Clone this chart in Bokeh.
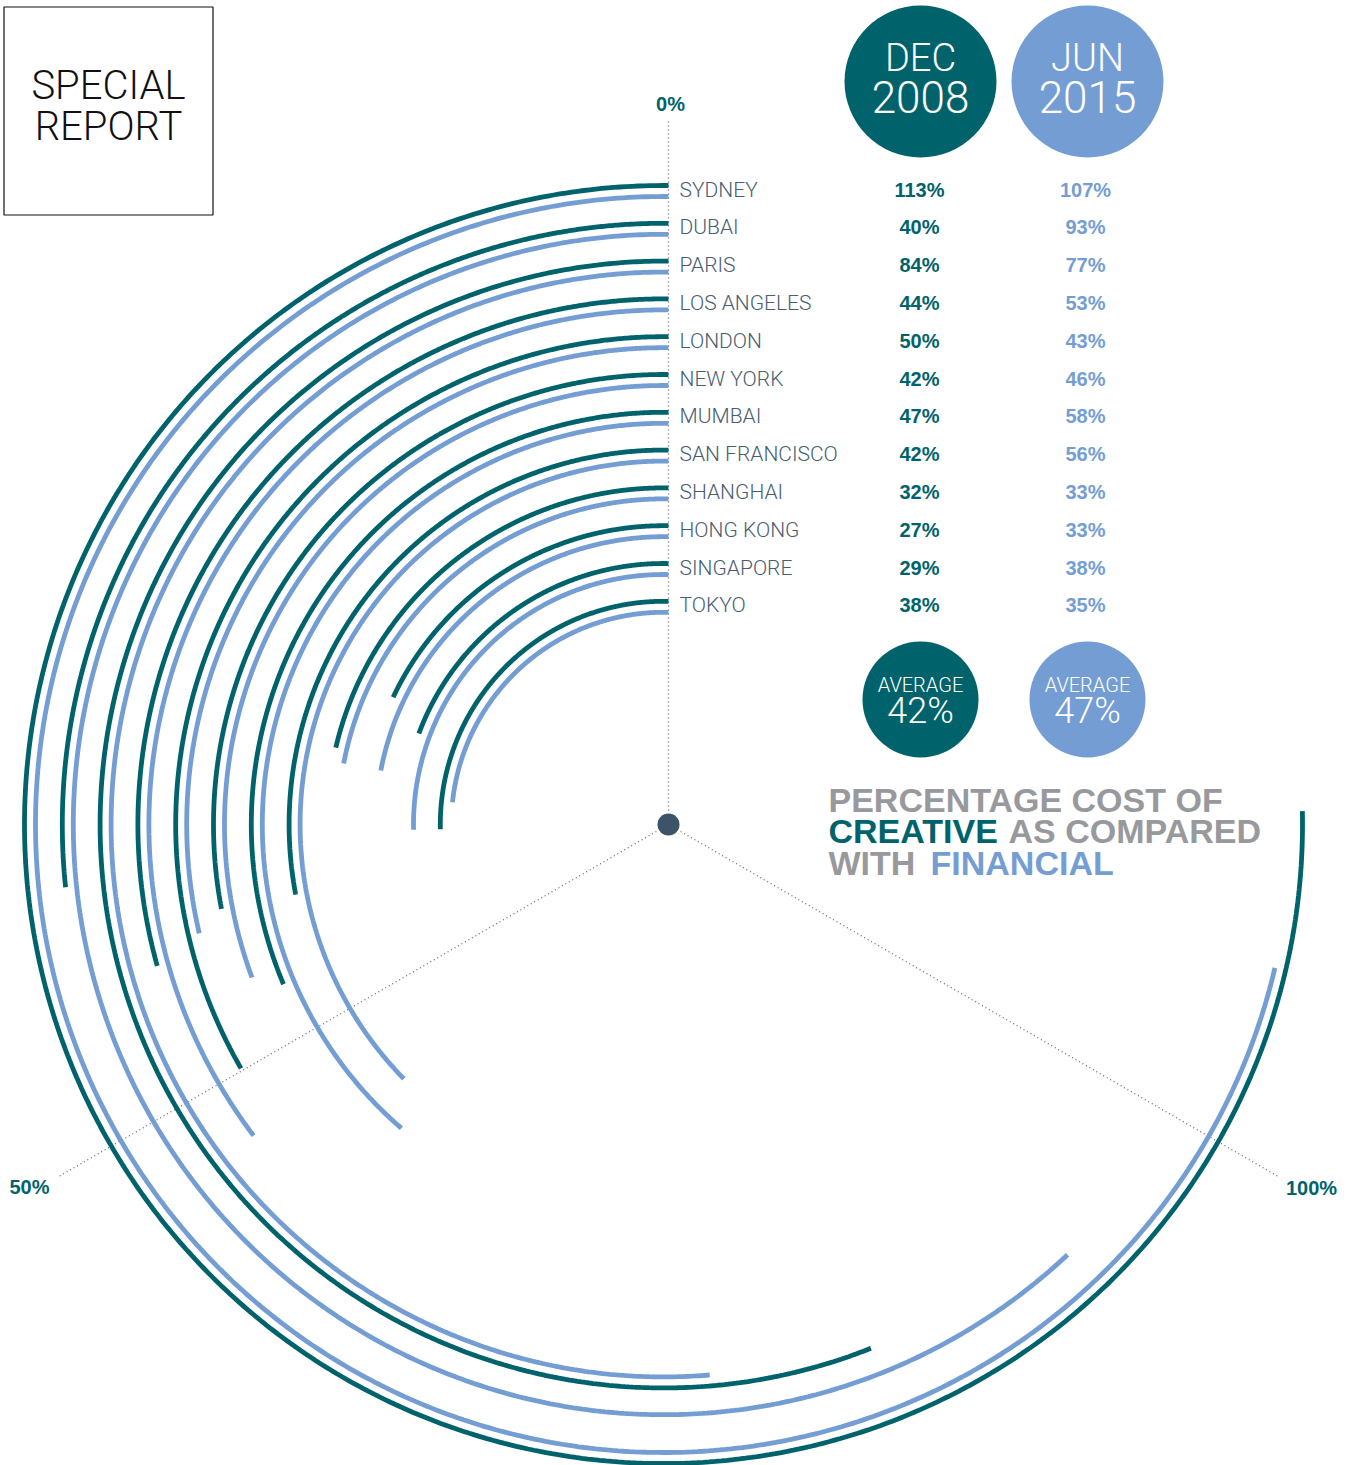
import numpy as np
from bokeh.plotting import figure
from bokeh.models import Range1d
from bokeh.core.properties import value
from bokeh.embed import file_html
from bokeh.resources import INLINE

# ---------------- data ----------------
cities = ["SYDNEY", "DUBAI", "PARIS", "LOS ANGELES", "LONDON", "NEW YORK",
          "MUMBAI", "SAN FRANCISCO", "SHANGHAI", "HONG KONG", "SINGAPORE", "TOKYO"]
dec_2008 = [113, 40, 84, 44, 50, 42, 47, 42, 32, 27, 29, 38]
jun_2015 = [107, 93, 77, 53, 43, 46, 58, 56, 33, 33, 38, 35]
series_month = ["DEC", "JUN"]
series_year = ["2008", "2015"]
averages = [42, 47]
tick_values = [0, 50, 100]
tick_labels = ["0%", "50%", "100%"]

# ---------------- style ----------------
TEAL = "#00636B"
BLUE = "#749ED3"
GRAY = "#98999D"
LABEL = "#4A5D70"
DOT = "#3D5468"
THIN = value("Roboto Light")
BOLD = value("Liberation Sans")

W, H = 1354, 1465
p = figure(width=W, height=H, x_range=Range1d(0, W), y_range=Range1d(H, 0),
           output_backend="svg", toolbar_location=None, min_border=0)
p.axis.visible = False
p.grid.visible = False
p.outline_line_color = None
p.background_fill_color = "white"

CX, CY = 663.0, 824.0      # arc centre
AX = 668.0                 # axis origin x
R0, STEP, GAP = 639.0, 37.8, 11.0
DEG = 2.4                  # degrees per percent (100% -> 240 deg)

def pt(cx, cy, r, deg):
    t = np.radians(deg)
    return cx - r * np.sin(t), cy - r * np.cos(t)

# ---------------- axes (dotted) ----------------
ax_x0, ax_y0, ax_x1, ax_y1 = [], [], [], []
for tv in tick_values:
    x0, y0 = pt(AX, CY, 14, tv * DEG)
    x1, y1 = pt(AX, CY, 704, tv * DEG)
    ax_x0.append(x0); ax_y0.append(y0); ax_x1.append(x1); ax_y1.append(y1)
p.segment(ax_x0, ax_y0, ax_x1, ax_y1, line_color="#56616C", line_width=1.3, line_dash="1 3")

lab_pos = [(670, 103), (29, 1186), (1311, 1187)]
p.text([q[0] for q in lab_pos], [q[1] for q in lab_pos], text=tick_labels,
       text_font=BOLD, text_font_style="bold", text_font_size="20px", text_color=TEAL,
       text_align="center", text_baseline="middle")

p.scatter([AX], [CY], size=22, color=DOT, line_color=None)

# ---------------- arcs ----------------
xs, ys, cols = [], [], []
for i in range(len(cities)):
    for vals, off, col in ((dec_2008, 0.0, TEAL), (jun_2015, GAP, BLUE)):
        r = R0 - STEP * i - off
        t0 = -np.degrees(np.arcsin((AX - CX) / r))
        t = np.linspace(t0, vals[i] * DEG, 500)
        x, y = pt(CX, CY, r, t)
        xs.append(x); ys.append(y); cols.append(col)
p.multi_line(xs, ys, line_color=cols, line_width=4.8, line_cap="butt")

# ---------------- labels ----------------
ly = [CY - (R0 - STEP * i) + 4 for i in range(len(cities))]
p.text([679] * len(cities), ly, text=cities, text_font=THIN, text_font_size="21px",
       text_color=LABEL, text_align="left", text_baseline="middle")
p.text([919] * len(cities), ly, text=[f"{v}%" for v in dec_2008], text_font=BOLD,
       text_font_style="bold", text_font_size="20px", text_color=TEAL,
       text_align="center", text_baseline="middle")
p.text([1085] * len(cities), ly, text=[f"{v}%" for v in jun_2015], text_font=BOLD,
       text_font_style="bold", text_font_size="20px", text_color=BLUE,
       text_align="center", text_baseline="middle")

# ---------------- header / average circles ----------------
cxs = [920, 1087]
p.circle(cxs, [81, 81], radius=76, color=[TEAL, BLUE], line_color=None)
p.text(cxs, [57.5, 57.5], text=series_month, text_font=THIN, text_font_size="38px",
       text_color="white", text_align="center", text_baseline="middle")
p.text(cxs, [96, 96], text=series_year, text_font=THIN, text_font_size="44px",
       text_color="white", text_align="center", text_baseline="middle")

p.circle(cxs, [699, 699], radius=58, color=[TEAL, BLUE], line_color=None)
p.text(cxs, [684, 684], text=["AVERAGE", "AVERAGE"], text_font=THIN, text_font_size="20px",
       text_color="white", text_align="center", text_baseline="middle")
p.text(cxs, [710.5, 710.5], text=[f"{a}%" for a in averages], text_font=THIN,
       text_font_size="36px", text_color="white", text_align="center", text_baseline="middle")

# ---------------- title ----------------
tx = [828, 828, 1008, 828, 930]
ty = [799.5, 830.5, 830.5, 862.5, 862.5]
tt = ["PERCENTAGE COST OF", "CREATIVE", "AS COMPARED", "WITH", "FINANCIAL"]
tc = [GRAY, TEAL, GRAY, GRAY, BLUE]
p.text(tx, ty, text=tt, text_color=tc, text_font=BOLD, text_font_style="bold",
       text_font_size="34px", text_align="left", text_baseline="middle")

# ---------------- special report box ----------------
p.quad(left=[3.5], right=[212.5], top=[6.5], bottom=[214.5], fill_color=None,
       line_color="#111111", line_width=1.2)
p.text([108, 108], [85, 126], text=["SPECIAL", "REPORT"], text_font=THIN,
       text_font_size="40px", text_color="#111111", text_align="center",
       text_baseline="middle")

open("out.html", "w").write(file_html(p, INLINE))
